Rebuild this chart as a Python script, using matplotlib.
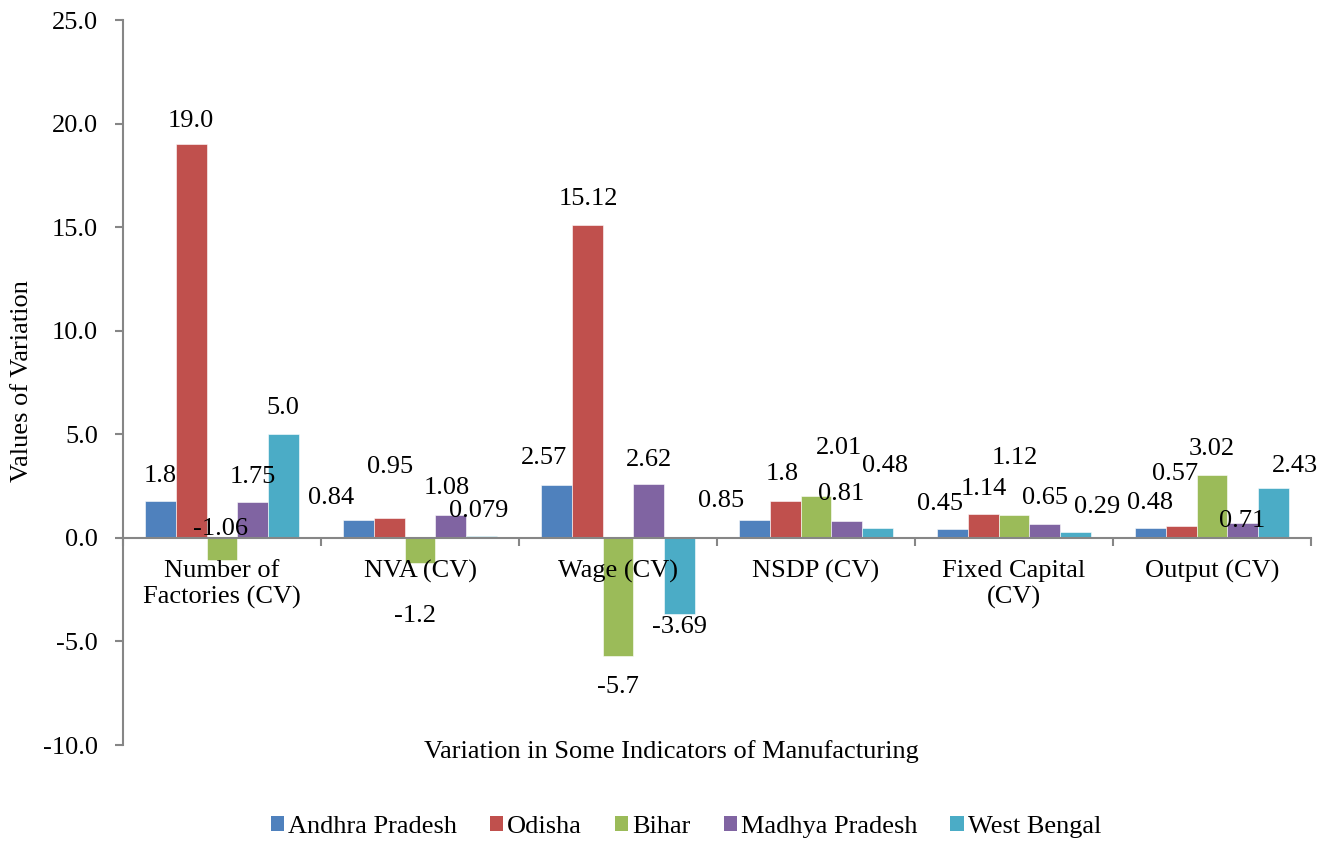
import matplotlib
matplotlib.use("Agg")
import matplotlib.pyplot as plt
from matplotlib.patches import Patch
import numpy as np

plt.rcParams["font.family"] = ["Liberation Serif", "DejaVu Serif"]
plt.rcParams["font.size"] = 19

# Data
categories = ["Number of\nFactories (CV)", "NVA (CV)", "Wage (CV)",
              "NSDP (CV)", "Fixed Capital\n(CV)", "Output (CV)"]
states = ["Andhra Pradesh", "Odisha", "Bihar", "Madhya Pradesh", "West Bengal"]

andhra_pradesh = [1.8, 0.84, 2.57, 0.85, 0.45, 0.48]
odisha = [19.0, 0.95, 15.12, 1.8, 1.14, 0.57]
bihar = [-1.06, -1.2, -5.7, 2.01, 1.12, 3.02]
madhya_pradesh = [1.75, 1.08, 2.62, 0.81, 0.65, 0.71]
west_bengal = [5.0, 0.079, -3.69, 0.48, 0.29, 2.43]

series = [andhra_pradesh, odisha, bihar, madhya_pradesh, west_bengal]
colors = ["#4F81BD", "#C0504D", "#9BBB59", "#8064A2", "#4BACC6"]

# label nudges (pixels) relative to bar end, as placed in the original
label_nudge = [
    [(0, 25), (-27, 22), (-12, 27), (-33, 19), (-12, 25), (0, 25)],
    [(0, 23), (1, 51), (1, 26), (-3, 27), (1, 25), (-6, 52)],
    [(-1, 31), (-5, -53), (0, -31), (23, 48), (1, 57), (0, 26)],
    [(0, 25), (-4, 27), (0, 24), (-6, 27), (0, 26), (-1, 2)],
    [(-1, 26), (-3, 25), (0, -13), (7, 62), (21, 25), (21, 22)],
]

fig = plt.figure(figsize=(13.27, 8.46), dpi=100)
ax = fig.add_axes([123 / 1327, 1 - 745 / 846, (1311 - 123) / 1327, (745 - 20) / 846])
ax.set_axisbelow(False)

x = np.arange(len(categories))
width = 0.156
px = 72 / 100  # points per pixel

for j, (vals, col) in enumerate(zip(series, colors)):
    xs = x + (j - 2) * width
    ax.bar(xs, vals, width, color=col, edgecolor="white", linewidth=0.4, zorder=1)
    for xi, v, (dx, dy) in zip(xs, vals, label_nudge[j]):
        ax.annotate(str(v), xy=(xi, v), xytext=(dx * px, dy * px),
                    textcoords="offset points", ha="center", va="center",
                    fontsize=19, zorder=4)

ax.set_xlim(-0.5, len(categories) - 0.5)
ax.set_ylim(-10, 25)
ax.set_yticks(np.arange(-10, 26, 5))
ax.set_yticklabels([f"{t:.1f}" for t in np.arange(-10, 26, 5)])

ax.spines["top"].set_visible(False)
ax.spines["right"].set_visible(False)
ax.spines["bottom"].set_position(("data", 0))
for s in ["left", "bottom"]:
    ax.spines[s].set_color("#868686")
    ax.spines[s].set_linewidth(1.5)
    ax.spines[s].set_zorder(3)

ax.set_xticks(np.arange(-0.5, len(categories), 1.0))
ax.set_xticklabels([])
ax.set_xticks(x, minor=True)
ax.set_xticklabels(categories, minor=True)
ax.tick_params(axis="x", which="major", direction="out", length=6, width=1.5, color="#868686")
ax.tick_params(axis="x", which="minor", length=0, pad=16)
ax.tick_params(axis="y", direction="out", length=6, width=1.5, color="#868686", pad=12)

fig.text(22 / 1327, 1 - 381 / 846, "Values of Variation", rotation=90,
         ha="center", va="center", fontsize=19)
fig.text(671 / 1327, 1 - 752 / 846, "Variation in Some Indicators of Manufacturing",
         ha="center", va="center", fontsize=19)

handles = [Patch(facecolor=c, edgecolor="none") for c in colors]
fig.legend(handles, states, loc="center", bbox_to_anchor=(686 / 1327, 1 - 827 / 846),
           ncol=5, frameon=False, handlelength=0.5, handleheight=0.5,
           handletextpad=0.15, columnspacing=1.25, fontsize=19)

fig.savefig("out.png", dpi=100)
